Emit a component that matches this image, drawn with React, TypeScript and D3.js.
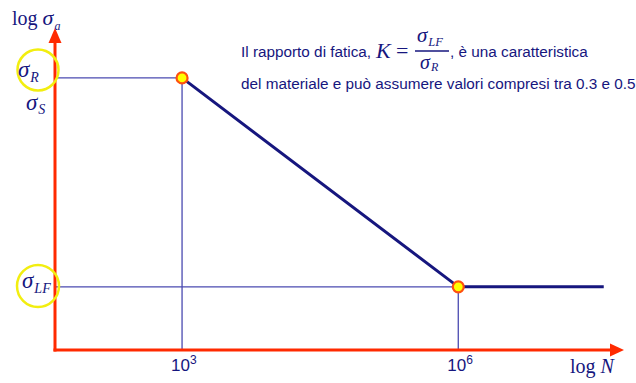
import React from "react";
import * as d3 from "d3";

const W = 636;
const H = 383;

// S-N curve (Wöhler) schematic: N cycles vs stress amplitude
const curveN = [1e3, 1e6, 10 ** 7.58];
const curveSigma = [1000, 500, 500];
const tickN = [1e3, 1e6];
const tickLabels = ["10", "10"];
const tickExps = ["3", "6"];
const sigmaR = 1000;
const sigmaS = 900;
const sigmaLF = 500;

const xDomain = [10 ** 1.62, 10 ** 7.8];
const yDomain = [405.5, 1180];

const RED = "#ff2a00";
const NAVY = "#16167e";
const THIN = "#4a4ab0";
const SERIF = "'Liberation Serif', 'Times New Roman', serif";
const SANS = "'Liberation Sans', Arial, sans-serif";

export default function App() {
  const x = d3.scaleLog().domain(xDomain).range([55, 624]);
  const y = d3.scaleLog().domain(yDomain).range([350, 28]);
  const x0 = x(xDomain[0]);
  const y0 = y(yDomain[0]);
  const xEnd = x(xDomain[1]);
  const yTop = y(yDomain[1]);

  const pts: [number, number][] = curveN.map((n, i) => [x(n), y(curveSigma[i])]);
  const line = d3.line<[number, number]>()(pts) || "";

  const sigLabel = (sub: string, cx: number, cy: number, subDx = 1, subDy = 5) => (
    <text x={cx} y={cy} fontFamily={SERIF} fontStyle="italic" fill={NAVY} fontSize={23}>
      σ
      <tspan fontSize={14} dx={subDx} dy={subDy}>{sub}</tspan>
    </text>
  );

  return (
    <svg
      width={W}
      height={H}
      style={{ position: "absolute", left: 0, top: 0, background: "#fff" }}
    >
      <rect width={W} height={H} fill="#fff" />

      {/* thin guide lines */}
      <line x1={x0} x2={x(curveN[0])} y1={y(sigmaR)} y2={y(sigmaR)} stroke={THIN} strokeWidth={1.3} />
      <line x1={x(curveN[0])} x2={x(curveN[0])} y1={y(sigmaR)} y2={y0} stroke={THIN} strokeWidth={1.3} />
      <line x1={x0} x2={x(curveN[1])} y1={y(sigmaLF)} y2={y(sigmaLF)} stroke={THIN} strokeWidth={1.3} />
      <line x1={x(curveN[1])} x2={x(curveN[1])} y1={y(sigmaLF)} y2={y0} stroke={THIN} strokeWidth={1.3} />

      {/* S-N curve */}
      <path d={line} fill="none" stroke={NAVY} strokeWidth={3} />

      {/* axes */}
      <line x1={x0} x2={x0} y1={y0 + 1.5} y2={yTop + 14} stroke={RED} strokeWidth={3} />
      <polygon points={`${x0},${yTop} ${x0 - 6.5},${yTop + 15} ${x0 + 6.5},${yTop + 15}`} fill={RED} />
      <line x1={x0 - 1.5} x2={xEnd - 12} y1={y0} y2={y0} stroke={RED} strokeWidth={3} />
      <polygon points={`${xEnd},${y0} ${xEnd - 14},${y0 - 6.5} ${xEnd - 14},${y0 + 6.5}`} fill={RED} />

      {/* markers */}
      {pts.slice(0, 2).map((p, i) => (
        <circle key={i} cx={p[0]} cy={p[1]} r={5.5} fill="#ffff00" stroke="#ff5010" strokeWidth={2.2} />
      ))}

      {/* x tick labels */}
      {tickN.map((n, i) => (
        <text key={i} x={x(n) - 11} y={371} fontFamily={SANS} fontSize={17} fill={NAVY}>
          {tickLabels[i]}
          <tspan fontSize={12} dy={-7}>{tickExps[i]}</tspan>
        </text>
      ))}

      {/* axis titles */}
      <text x={12} y={25} fontFamily={SERIF} fontSize={20} fill={NAVY}>
        log <tspan fontStyle="italic" fontSize={22}>σ</tspan>
        <tspan fontStyle="italic" fontSize={12} dx={1} dy={5}>a</tspan>
      </text>
      <text x={570} y={373} fontFamily={SERIF} fontSize={20} fill={NAVY}>
        log <tspan fontStyle="italic">N</tspan>
      </text>

      {/* y labels */}
      <circle cx={38} cy={70} r={20.5} fill="none" stroke="#f2ee10" strokeWidth={2.5} />
      {sigLabel("R", 18, y(sigmaR) - 1, 1, 5)}
      {sigLabel("S", 26, y(sigmaS), 1, 4)}
      <circle cx={38} cy={286} r={21} fill="none" stroke="#f2ee10" strokeWidth={2.5} />
      {sigLabel("LF", 22, y(sigmaLF) + 1, 1, 5)}

      {/* annotation */}
      <text x={241} y={57} fontFamily={SANS} fontSize={15.3} fill={NAVY}>
        Il rapporto di fatica,
      </text>
      <text x={376} y={58} fontFamily={SERIF} fontSize={22} fontStyle="italic" fill={NAVY}>K</text>
      <text x={396} y={58} fontFamily={SERIF} fontSize={22} fill={NAVY}>=</text>
      <text x={417} y={42} fontFamily={SERIF} fontSize={21} fontStyle="italic" fill={NAVY}>
        σ<tspan fontSize={12.5} dx={1} dy={4}>LF</tspan>
      </text>
      <line x1={415} x2={449} y1={51} y2={51} stroke={NAVY} strokeWidth={1.3} />
      <text x={420} y={69} fontFamily={SERIF} fontSize={20} fontStyle="italic" fill={NAVY}>
        σ<tspan fontSize={12} dx={1} dy={2}>R</tspan>
      </text>
      <text x={450} y={57} fontFamily={SANS} fontSize={15.3} fill={NAVY}>
        , è una caratteristica
      </text>
      <text x={241} y={89} fontFamily={SANS} fontSize={15.3} fill={NAVY}>
        del materiale e può assumere valori compresi tra 0.3 e 0.5
      </text>
    </svg>
  );
}
